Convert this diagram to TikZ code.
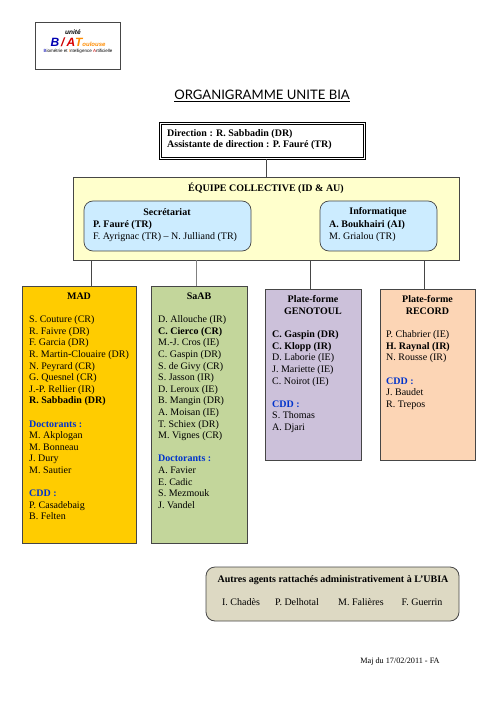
\documentclass[tikz,border=0pt]{standalone}
\usepackage{fontspec}
\setmainfont{Liberation Serif}
\newfontfamily\titlefont{Lato}
\newfontfamily\logofont{Liberation Sans}
\usetikzlibrary{positioning}
\definecolor{madyellow}{RGB}{255, 204, 0}
\definecolor{saabgreen}{RGB}{195, 214, 155}
\definecolor{genopurple}{RGB}{204, 193, 218}
\definecolor{recordpeach}{RGB}{252, 213, 181}
\definecolor{equipeyellow}{RGB}{255, 255, 204}
\definecolor{innerblue}{RGB}{204, 236, 255}
\definecolor{autresbeige}{RGB}{221, 217, 195}
\definecolor{cddblue}{RGB}{0, 51, 204}
\definecolor{edgegray}{RGB}{70, 70, 70}
\newcommand{\cdd}[1]{\textcolor{cddblue}{\textbf{#1}}}
\tikzset{
  bodyfont/.style={font=\fontsize{10}{11.6}\selectfont},
  teambox/.style={rectangle, draw=edgegray, line width=0.8pt, inner sep=0pt},
  innerbox/.style={rectangle, rounded corners=9pt, draw=edgegray, line width=0.7pt, fill=innerblue, inner sep=0pt},
  headtext/.style={bodyfont, align=center, inner sep=0pt},
  listtext/.style={bodyfont, align=left, anchor=north west, inner sep=0pt},
  link/.style={edgegray, line width=0.8pt}
}
\begin{document}
\begin{tikzpicture}[x=1pt, y=-1pt]
    \useasboundingbox (0, 0) rectangle (500, 708);

    % Logo
    \node[draw=edgegray, line width=0.6pt, minimum width=85pt, minimum height=47pt, inner sep=0pt] (logo) at (77.5, 45.5) {};
    \node[inner sep=0pt, font=\logofont\bfseries\itshape\fontsize{6.5}{7}\selectfont] (logounite) at (73, 32) {unité};
    \node[inner sep=0pt, font=\logofont\bfseries\itshape\fontsize{12}{12}\selectfont] (logobia) at (78, 42) {\textcolor{blue!70!black}{B}\,\textcolor{red!80!black}{/}\,\textcolor{red!85!black}{A}\textcolor{orange!90!yellow}{T\fontsize{6}{6}\selectfont oulouse}};
    \node[inner sep=0pt, font=\logofont\fontsize{4.5}{5}\selectfont] (logosub) at (78, 51) {\textcolor{blue!70!black}{B}iométrie et \textcolor{orange}{I}ntelligence \textcolor{red!80!black}{A}rtificielle};

    % Title
    \node[inner sep=0pt, font=\titlefont\fontsize{13.1}{15}\selectfont] (title) at (262, 96) {\underline{ORGANIGRAMME UNITE BIA}};

    % Direction
    \node[draw=black, line width=0.9pt, minimum width=206pt, minimum height=37pt, inner sep=0pt] (direction) at (262, 140.5) {};
    \node[draw=black, line width=0.5pt, minimum width=202pt, minimum height=33pt, inner sep=0pt] (directioninner) at (262, 140.5) {};
    \node[listtext, font=\fontsize{10}{11.6}\selectfont\bfseries] (directiontxt) at (167, 129) {Direction : R. Sabbadin (DR)\\Assistante de direction : P. Fauré (TR)};

    % Equipe collective
    \node[teambox, fill=equipeyellow, minimum width=386pt, minimum height=83pt] (equipe) at (266, 218.5) {};
    \node[headtext, font=\fontsize{10}{11.6}\selectfont\bfseries] (equipetxt) at (266, 188) {ÉQUIPE COLLECTIVE (ID \& AU)};
    \node[innerbox, minimum width=167pt, minimum height=50pt] (secretariat) at (167.5, 226) {};
    \node[headtext] (secretariathead) at (167, 212) {\textbf{Secrétariat}};
    \node[listtext] (secretariattxt) at (93, 220.5) {\textbf{P. Fauré (TR)}\\F. Ayrignac (TR) -- N. Julliand (TR)};
    \node[innerbox, minimum width=117pt, minimum height=50pt] (informatique) at (378.5, 226) {};
    \node[headtext] (informatiquehead) at (378, 212) {\textbf{Informatique}};
    \node[listtext] (informatiquetxt) at (329, 220.5) {\textbf{A. Boukhairi (AI)}\\M. Grialou (TR)};

    % Teams
    \node[teambox, fill=madyellow, minimum width=114pt, minimum height=257pt] (mad) at (79, 414.5) {};
    \node[headtext] (madhead) at (79, 296) {\textbf{MAD}};
    \node[listtext] (madtxt) at (29, 315.5) {S. Couture (CR)\\R. Faivre (DR)\\F. Garcia (DR)\\R. Martin-Clouaire (DR)\\N. Peyrard (CR)\\G. Quesnel (CR)\\J.-P. Rellier (IR)\\\textbf{R. Sabbadin (DR)}\\[11.6pt]\cdd{Doctorants :}\\M. Akplogan\\M. Bonneau\\J. Dury\\M. Sautier\\[11.6pt]\cdd{CDD :}\\P. Casadebaig\\B. Felten};

    \node[teambox, fill=saabgreen, minimum width=96pt, minimum height=257pt] (saab) at (199, 414.5) {};
    \node[headtext] (saabhead) at (199, 296) {\textbf{SaAB}};
    \node[listtext] (saabtxt) at (158, 315.5) {D. Allouche (IR)\\\textbf{C. Cierco (CR)}\\M.-J. Cros (IE)\\C. Gaspin (DR)\\S. de Givy (CR)\\S. Jasson (IR)\\D. Leroux (IE)\\B. Mangin (DR)\\A. Moisan (IE)\\T. Schiex (DR)\\M. Vignes (CR)\\[11.6pt]\cdd{Doctorants :}\\A. Favier\\E. Cadic\\S. Mezmouk\\J. Vandel};

    \node[teambox, fill=genopurple, minimum width=96pt, minimum height=171pt] (genotoul) at (313, 374.5) {};
    \node[headtext] (genotoulhead) at (313, 305) {\textbf{Plate-forme}\\\textbf{GENOTOUL}};
    \node[listtext] (genotoultxt) at (272, 330.5) {\textbf{C. Gaspin (DR)}\\\textbf{C. Klopp (IR)}\\D. Laborie (IE)\\J. Mariette (IE)\\C. Noirot (IE)\\[11.6pt]\cdd{CDD :}\\S. Thomas\\A. Djari};

    \node[teambox, fill=recordpeach, minimum width=95pt, minimum height=171pt] (record) at (427.5, 374.5) {};
    \node[headtext] (recordhead) at (427.5, 305) {\textbf{Plate-forme}\\\textbf{RECORD}};
    \node[listtext] (recordtxt) at (386, 330.5) {P. Chabrier (IE)\\\textbf{H. Raynal (IR)}\\N. Rousse (IR)\\[11.6pt]\cdd{CDD :}\\J. Baudet\\R. Trepos};

    % Links
    \draw[link] (equipe.north |- direction.south) -- (equipe.north);
    \draw[link] ([xshift=12pt]mad.north) -- ([xshift=12pt]mad.north |- equipe.south);
    \draw[link, gray] ([xshift=-3pt]saab.north) -- ([xshift=-3pt]saab.north |- equipe.south);
    \draw[link] ([xshift=-3pt]genotoul.north) -- ([xshift=-3pt]genotoul.north |- equipe.south);
    \draw[link] ([xshift=-3.5pt]record.north) -- ([xshift=-3.5pt]record.north |- equipe.south);

    % Autres agents
    \node[teambox, rounded corners=9pt, fill=autresbeige, minimum width=253pt, minimum height=54pt] (autres) at (332.5, 594) {};
    \node[headtext] (autreshead) at (333, 580) {\textbf{Autres agents rattachés administrativement à L'UBIA}};
    \node[headtext] (chades) at (241, 602) {I. Chadès};
    \node[headtext] (delhotal) at (297, 602) {P. Delhotal};
    \node[headtext] (falieres) at (361, 602) {M. Falières};
    \node[headtext] (guerrin) at (422, 602) {F. Guerrin};

    % Mise a jour
    \node[inner sep=0pt, font=\fontsize{8.2}{9}\selectfont] (maj) at (400, 662) {Maj du 17/02/2011 - FA};
\end{tikzpicture}
\end{document}
